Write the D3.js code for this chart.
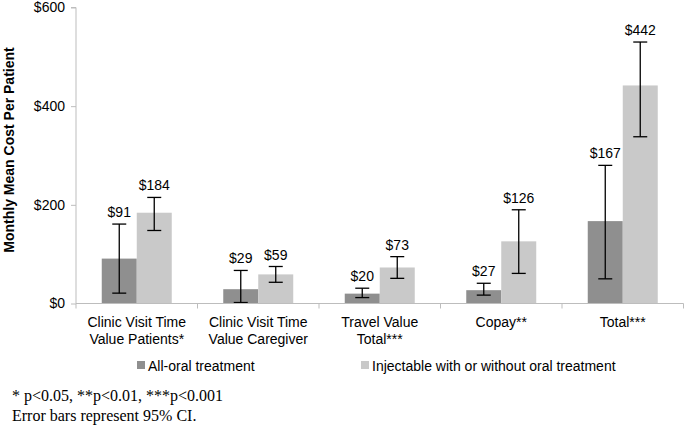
<!DOCTYPE html>
<html>
<head>
<meta charset="utf-8">
<script src="https://cdn.jsdelivr.net/npm/d3@7"></script>
<style>
  body { margin: 0; background: #fff; }
  text { font-family: "Liberation Sans", Arial, sans-serif; fill: #000; }
  .note { font-family: "Liberation Serif", "Times New Roman", serif; }
</style>
</head>
<body>
<svg id="chart" width="685" height="429"></svg>
<script>
// categories (each is split over lines)
const categories = ["cv_pat", "cv_care", "travel", "copay", "total"];
const categoryLines = [
  ["Clinic Visit Time", "Value Patients*"],
  ["Clinic Visit Time", "Value Caregiver"],
  ["Travel Value", "Total***"],
  ["Copay**"],
  ["Total***"]
];
const series = ["All-oral treatment", "Injectable with or without oral treatment"];
const seriesColors = ["#8f8f8f", "#c9c9c9"];

// mean values and 95% CI
const oralMean = [91, 29, 20, 27, 167];
const oralLow = [21, 2, 12, 17, 50];
const oralHigh = [161, 67, 31, 41, 280];
const injMean = [184, 59, 73, 126, 442];
const injLow = [148, 43, 51, 61, 338];
const injHigh = [215, 75, 95, 190, 530];

const yTicks = [0, 200, 400, 600];

const svg = d3.select('#chart');
const margin = { left: 76, right: 1.5, top: 7.5, bottom: 125.5 };
const width = 685, height = 429;

const x0 = d3.scaleBand()
  .domain(categories)
  .range([margin.left, width - margin.right])
  .padding(0);
const x1 = d3.scaleBand()
  .domain([0, 1])
  .range([0, x0.bandwidth()])
  .paddingInner(0)
  .paddingOuter(0.736);
const y = d3.scaleLinear()
  .domain([0, 600])
  .range([height - margin.bottom, margin.top]);

const rows = [];
categories.forEach((c, i) => {
  rows.push({ cat: c, s: 0, mean: oralMean[i], lo: oralLow[i], hi: oralHigh[i] });
  rows.push({ cat: c, s: 1, mean: injMean[i], lo: injLow[i], hi: injHigh[i] });
});

// y axis
const yAxis = svg.append('g')
  .attr('transform', `translate(${margin.left},0)`)
  .call(d3.axisLeft(y).tickValues(yTicks).tickFormat(d => '$' + d).tickSize(5).tickPadding(6));
yAxis.selectAll('line, path').attr('stroke', '#bdbdbd');
yAxis.select('.domain').attr('d', `M-5,${y(600)}H0V${y(0)}`);
yAxis.selectAll('text').attr('font-size', 14).attr('font-family', '"Liberation Sans", Arial, sans-serif').attr('fill', '#000');

// bars
const g = svg.append('g');
g.selectAll('rect.bar')
  .data(rows)
  .enter()
  .append('rect')
  .attr('class', 'bar')
  .attr('x', d => x0(d.cat) + x1(d.s))
  .attr('width', x1.bandwidth())
  .attr('y', d => y(d.mean))
  .attr('height', d => y(0) - y(d.mean))
  .attr('fill', d => seriesColors[d.s]);

// x axis (drawn over bars)
const xAxisG = svg.append('g')
  .attr('transform', `translate(0,${y(0)})`);
xAxisG.append('line')
  .attr('x1', margin.left).attr('x2', width - margin.right)
  .attr('stroke', '#bdbdbd');
const edges = categories.map(c => x0(c)).concat([x0(categories[categories.length - 1]) + x0.bandwidth()]);
xAxisG.selectAll('line.tick')
  .data(edges)
  .enter()
  .append('line')
  .attr('class', 'tick')
  .attr('x1', d => d).attr('x2', d => d)
  .attr('y1', 0).attr('y2', 5)
  .attr('stroke', '#bdbdbd');

// error bars
const cap = 7;
const err = g.selectAll('g.err')
  .data(rows)
  .enter()
  .append('g')
  .attr('class', 'err')
  .attr('transform', d => `translate(${x0(d.cat) + x1(d.s) + x1.bandwidth() / 2},0)`);
err.append('line')
  .attr('y1', d => y(d.lo)).attr('y2', d => y(d.hi))
  .attr('stroke', '#000').attr('stroke-width', 1.3);
err.append('line')
  .attr('x1', -cap).attr('x2', cap)
  .attr('y1', d => y(d.hi)).attr('y2', d => y(d.hi))
  .attr('stroke', '#000').attr('stroke-width', 1.3);
err.append('line')
  .attr('x1', -cap).attr('x2', cap)
  .attr('y1', d => y(d.lo)).attr('y2', d => y(d.lo))
  .attr('stroke', '#000').attr('stroke-width', 1.3);

// value labels
g.selectAll('text.val')
  .data(rows)
  .enter()
  .append('text')
  .attr('class', 'val')
  .attr('x', d => x0(d.cat) + x1(d.s) + x1.bandwidth() / 2)
  .attr('y', d => y(d.hi) - 7)
  .attr('text-anchor', 'middle')
  .attr('font-size', 14)
  .text(d => '$' + d.mean);

// category labels
const catText = svg.selectAll('text.cat')
  .data(categories)
  .enter()
  .append('text')
  .attr('class', 'cat')
  .attr('text-anchor', 'middle')
  .attr('font-size', 14)
  .attr('transform', d => `translate(${x0(d) + x0.bandwidth() / 2},${y(0) + 23})`);
catText.selectAll('tspan')
  .data((d, i) => categoryLines[i])
  .enter()
  .append('tspan')
  .attr('x', 0)
  .attr('y', (d, i) => i * 17)
  .text(d => d);

// y title
svg.append('text')
  .attr('transform', 'rotate(-90)')
  .attr('x', -150)
  .attr('y', 14)
  .attr('text-anchor', 'middle')
  .attr('font-size', 14)
  .attr('font-weight', 'bold')
  .text('Monthly Mean Cost Per Patient');

// legend
const legendX = [137, 361];
const leg = svg.selectAll('g.leg')
  .data(series)
  .enter()
  .append('g')
  .attr('class', 'leg')
  .attr('transform', (d, i) => `translate(${legendX[i]},361)`);
leg.append('rect')
  .attr('width', 8).attr('height', 8)
  .attr('fill', (d, i) => seriesColors[i]);
leg.append('text')
  .attr('x', 11)
  .attr('y', 9.5)
  .attr('font-size', 14)
  .text(d => d);

// footnote
const notes = ["* p<0.05, **p<0.01, ***p<0.001", "Error bars represent 95% CI."];
svg.selectAll('text.note')
  .data(notes)
  .enter()
  .append('text')
  .attr('class', 'note')
  .attr('x', 12)
  .attr('y', (d, i) => 401 + i * 19.5)
  .attr('font-size', 16)
  .text(d => d);
</script>
</body>
</html>
